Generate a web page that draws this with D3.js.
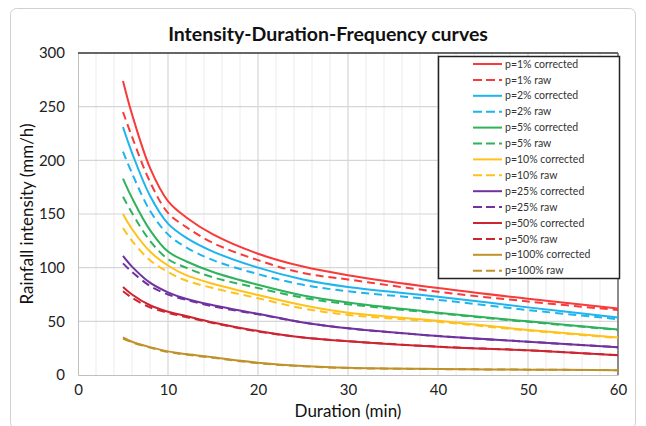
<!DOCTYPE html>
<html>
<head>
<meta charset="utf-8">
<script src="https://cdn.jsdelivr.net/npm/d3@7"></script>
<style>
  body { margin: 0; background: #fff; }
  text { font-family: Lato, "Open Sans", sans-serif; }
</style>
</head>
<body>
<div id="canvas"></div>
<script>
// Data
const durations = [5, 6, 8, 10, 12, 15, 20, 25, 30, 40, 50, 60];
const p1Corrected   = [274, 243, 193, 162, 147, 131, 113, 101, 93, 81, 71, 62];
const p1Raw         = [245, 222, 180, 151, 138, 123, 107, 95, 89, 77.5, 68.5, 60.5];
const p2Corrected   = [231, 207, 167, 141, 128, 115, 100, 89, 82, 73, 63, 53.5];
const p2Raw         = [208, 188, 153, 131, 119, 107, 94, 84, 78, 70, 60.5, 52];
const p5Corrected   = [183, 165, 135, 115, 106, 96, 84, 74, 67.5, 58, 50, 42.5];
const p5Raw         = [166, 151, 125, 108, 100, 91, 81, 72, 66, 57.5, 49.5, 42];
const p10Corrected  = [150, 136, 115, 102, 93, 85, 74.5, 65, 58, 50.5, 42, 35];
const p10Raw        = [137, 125, 107, 96, 88, 81, 71.5, 62, 56, 49.5, 41.5, 34.5];
const p25Corrected  = [111, 101, 86, 77, 71, 65, 57, 49, 43.5, 36.3, 31, 25.8];
const p25Raw        = [104, 96, 83, 75, 70, 64, 56.5, 49, 43.5, 36.3, 31, 25.8];
const p50Corrected  = [82, 75, 65, 59, 55, 49, 41, 35, 31.5, 26.4, 23, 18.5];
const p50Raw        = [78, 72, 63, 58, 54, 48.5, 40.5, 35, 31.5, 26.4, 23, 18.5];
const p100Corrected = [35, 31, 26, 22, 19.5, 16.5, 11.5, 8.5, 6.8, 5.6, 5, 4.5];
const p100Raw       = [34, 30.5, 25.5, 21.5, 19, 16, 11, 8.2, 6.5, 5.5, 5, 4.5];

const seriesNames = ['p=1% corrected', 'p=1% raw', 'p=2% corrected', 'p=2% raw',
    'p=5% corrected', 'p=5% raw', 'p=10% corrected', 'p=10% raw',
    'p=25% corrected', 'p=25% raw', 'p=50% corrected', 'p=50% raw',
    'p=100% corrected', 'p=100% raw'];
const seriesValues = [p1Corrected, p1Raw, p2Corrected, p2Raw, p5Corrected, p5Raw,
    p10Corrected, p10Raw, p25Corrected, p25Raw, p50Corrected, p50Raw,
    p100Corrected, p100Raw];
const colors = ['#f83a3a', '#1eb4ee', '#2eb25c', '#ffc21a', '#7032a0', '#cc2430', '#c0922a'];

const xTicks = [0, 10, 20, 30, 40, 50, 60];
const yTicks = [0, 50, 100, 150, 200, 250, 300];

// Constants
const WIDTH = 646;
const HEIGHT = 426;
const PLOT_LEFT = 78;
const PLOT_RIGHT = 618;
const PLOT_TOP = 53;
const PLOT_BOTTOM = 375;

const svg = d3.select('#canvas')
    .append('svg').attr('width', WIDTH).attr('height', HEIGHT);

// Chart frame
svg.append('rect')
    .attr('x', 10.5).attr('y', 8.5)
    .attr('width', 625).attr('height', 420)
    .attr('rx', 6)
    .attr('fill', '#fff')
    .attr('stroke', '#d0d0d0');

const x = d3.scaleLinear().domain([0, 60]).range([PLOT_LEFT, PLOT_RIGHT]);
const y = d3.scaleLinear().domain([0, 300]).range([PLOT_BOTTOM, PLOT_TOP]);

// Gridlines: minor every 2 minutes, major every 10
svg.append('g')
    .selectAll('line')
    .data(d3.range(2, 60, 2).filter(d => d % 10 !== 0))
    .join('line')
    .attr('x1', d => x(d)).attr('x2', d => x(d))
    .attr('y1', PLOT_TOP).attr('y2', PLOT_BOTTOM)
    .attr('stroke', '#ececec');
svg.append('g')
    .selectAll('line')
    .data(xTicks.slice(1, -1))
    .join('line')
    .attr('x1', d => x(d)).attr('x2', d => x(d))
    .attr('y1', PLOT_TOP).attr('y2', PLOT_BOTTOM)
    .attr('stroke', '#d6d6d6').attr('stroke-width', 1.2);
svg.append('g')
    .selectAll('line')
    .data(yTicks.slice(1, -1))
    .join('line')
    .attr('x1', PLOT_LEFT).attr('x2', PLOT_RIGHT)
    .attr('y1', d => y(d)).attr('y2', d => y(d))
    .attr('stroke', '#d6d6d6').attr('stroke-width', 1.2);

// Axes
const xAxis = d3.axisBottom(x).tickValues(xTicks).tickSize(0).tickPadding(9);
const yAxis = d3.axisLeft(y).tickValues(yTicks).tickSize(0).tickPadding(13);

const gx = svg.append('g')
    .attr('transform', `translate(0,${PLOT_BOTTOM})`)
    .call(xAxis);
const gy = svg.append('g')
    .attr('transform', `translate(${PLOT_LEFT},0)`)
    .call(yAxis);
[gx, gy].forEach(g => {
    g.select('.domain').attr('stroke', '#bfbfbf');
    g.selectAll('text')
        .attr('font-size', 15)
        .attr('fill', '#222')
        .style('font-family', 'Lato, sans-serif');
});

// plot area border (top and right are dark)
svg.append('line')
    .attr('x1', PLOT_LEFT).attr('x2', PLOT_RIGHT)
    .attr('y1', PLOT_TOP).attr('y2', PLOT_TOP)
    .attr('stroke', '#333').attr('stroke-width', 1.5);
svg.append('line')
    .attr('x1', PLOT_RIGHT).attr('x2', PLOT_RIGHT)
    .attr('y1', PLOT_TOP).attr('y2', PLOT_BOTTOM)
    .attr('stroke', '#666').attr('stroke-width', 1.5);

// Curves (smoothed like the spreadsheet's smooth lines)
const Gen = d3.line()
    .x((d, i) => x(durations[i]))
    .y(d => y(d))
    .curve(d3.curveCatmullRom.alpha(0.5));

svg.append('g')
    .selectAll('path')
    .data(seriesValues)
    .join('path')
    .attr('d', d => Gen(d))
    .attr('fill', 'none')
    .attr('stroke', (d, i) => colors[Math.floor(i / 2)])
    .attr('stroke-width', 2)
    .attr('stroke-dasharray', (d, i) => i % 2 === 1 ? '8,5' : null);

// Legend
const legend = svg.append('g');
legend.append('rect')
    .attr('x', 438.5).attr('y', 56.5)
    .attr('width', 181).attr('height', 222)
    .attr('fill', '#fff')
    .attr('stroke', '#222').attr('stroke-width', 1.5);

const rows = legend.selectAll('g.row')
    .data(seriesNames)
    .join('g')
    .attr('class', 'row')
    .attr('transform', (d, i) => `translate(0,${64 + i * 15.9})`);
rows.append('line')
    .attr('x1', 473).attr('x2', 502)
    .attr('stroke', (d, i) => colors[Math.floor(i / 2)])
    .attr('stroke-width', 2)
    .attr('stroke-dasharray', (d, i) => i % 2 === 1 ? '9,4' : null);
rows.append('text')
    .attr('x', 505).attr('dy', '0.35em')
    .attr('font-size', 10.5)
    .attr('fill', '#333')
    .text(d => d);

// Titles
svg.append('text')
    .attr('x', 328).attr('y', 41)
    .attr('text-anchor', 'middle')
    .attr('font-size', 19.5)
    .attr('font-weight', 'bold')
    .attr('fill', '#111')
    .text('Intensity-Duration-Frequency curves');
svg.append('text')
    .attr('x', 348).attr('y', 417)
    .attr('text-anchor', 'middle')
    .attr('font-size', 17)
    .attr('fill', '#111')
    .text('Duration (min)');
svg.append('text')
    .attr('transform', `translate(33,${(PLOT_TOP + PLOT_BOTTOM) / 2}) rotate(-90)`)
    .attr('text-anchor', 'middle')
    .attr('font-size', 17)
    .attr('fill', '#111')
    .text('Rainfall intensity (mm/h)');
</script>
</body>
</html>
